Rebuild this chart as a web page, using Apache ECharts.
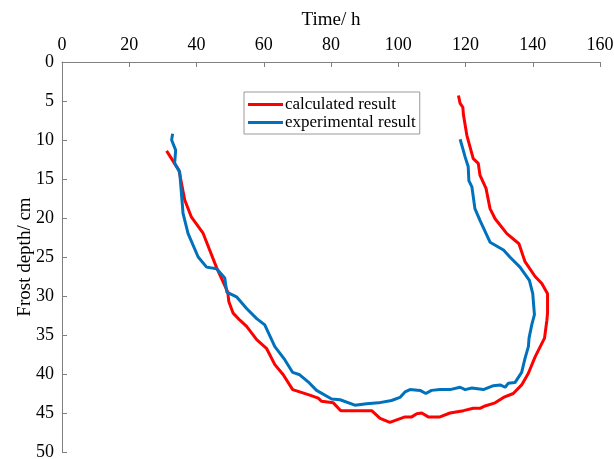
<!DOCTYPE html>
<html>
<head>
<meta charset="utf-8">
<script src="https://cdn.jsdelivr.net/npm/echarts@6/dist/echarts.min.js"></script>
<style>
  html, body { margin: 0; padding: 0; background: #fff; }
  #chart { width: 614px; height: 459px; }
</style>
</head>
<body>
<div id="chart"></div>
<script>
// time (h), frost depth (cm)
var calcTime = [31.1, 34.8, 36.5, 38.5, 41.9, 46.0, 49.3, 49.6, 50.9, 52.9, 54.9, 57.9, 60.8, 63.3, 65.8, 68.6,
  73.7, 76.2, 77.2, 80.7, 82.9, 85.6, 92.1, 94.6, 97.5, 102.0, 104.0, 105.5, 107.0, 108.9, 112.4, 115.4,
  119.4, 122.3, 124.3, 125.8, 128.8, 131.3, 134.2, 136.7, 138.7, 140.7, 143.5, 144.2, 144.4, 144.4,
  142.7, 140.7, 137.7, 135.9, 132.3, 128.8, 127.3, 126.1, 124.3, 123.8, 122.3, 120.4, 119.4, 119.2, 118.4, 117.9];
var calcDepth = [11.4, 13.9, 17.7, 19.9, 21.9, 26.4, 29.5, 30.7, 32.2, 33.1, 33.9, 35.6, 36.7, 38.8, 40.1, 42.0,
  42.7, 43.1, 43.5, 43.7, 44.7, 44.7, 44.7, 45.7, 46.2, 45.5, 45.5, 45.1, 45.0, 45.5, 45.5, 45.0,
  44.7, 44.4, 44.4, 44.1, 43.7, 43.0, 42.5, 41.4, 39.9, 37.8, 35.4, 33.1, 32.2, 29.7,
  28.4, 27.5, 25.6, 23.3, 22.0, 20.1, 18.8, 16.2, 14.5, 13.0, 12.4, 9.4, 6.8, 5.8, 5.3, 4.3];

var expTime = [32.9, 32.6, 33.8, 33.5, 35.0, 36.0, 37.5, 40.5, 43.0, 46.0, 48.4, 49.0, 51.9, 54.9, 57.9, 60.3,
  63.3, 66.3, 68.6, 70.7, 73.2, 75.7, 80.2, 82.7, 87.1, 90.6, 94.1, 98.0, 100.5, 102.0, 103.5, 106.5,
  108.2, 109.9, 112.4, 115.4, 118.4, 119.9, 121.9, 125.3, 128.3, 130.3, 131.8, 132.7, 134.7, 136.7,
  137.7, 138.7, 138.9, 139.7, 140.5, 140.0, 139.0, 136.2, 133.2, 131.3, 127.3, 124.3, 122.8, 121.9,
  121.0, 120.8, 119.9, 119.2, 118.4];
var expDepth = [9.2, 10.0, 11.3, 13.0, 14.1, 19.4, 22.0, 25.0, 26.3, 26.5, 27.7, 29.5, 30.1, 31.6, 32.9, 33.7,
  36.5, 38.2, 39.8, 40.1, 41.0, 42.1, 43.2, 43.3, 44.0, 43.8, 43.7, 43.4, 43.0, 42.3, 42.0, 42.1,
  42.5, 42.1, 42.0, 42.0, 41.7, 42.0, 41.8, 42.0, 41.5, 41.4, 41.7, 41.2, 41.1, 39.8,
  38.0, 36.5, 35.4, 33.7, 32.4, 29.7, 28.0, 26.3, 25.0, 24.1, 23.1, 20.3, 18.8, 16.0,
  15.2, 13.4, 12.2, 11.1, 9.9];

var seriesNames = ['calculated result', 'experimental result'];

function pairs(xs, ys) {
  return xs.map(function (x, i) { return [x, ys[i]]; });
}

var axisColor = '#808080';
var font = 'Liberation Serif';

var option = {
  animation: false,
  backgroundColor: '#fff',
  grid: { left: 62, right: 14, top: 62, bottom: 7, outerBoundsMode: 'none' },
  legend: {
    data: seriesNames,
    orient: 'vertical',
    left: 244,
    top: 92,
    padding: [4, 4, 3, 4],
    itemGap: 1,
    itemWidth: 35,
    itemHeight: 3,
    icon: 'rect',
    borderColor: '#999',
    borderWidth: 1,
    textStyle: { fontFamily: font, fontSize: 17, color: '#000', padding: [0, 0, 0, -3] }
  },
  xAxis: {
    type: 'value',
    position: 'top',
    min: 0, max: 160, interval: 20,
    name: 'Time/ h',
    nameLocation: 'middle',
    nameGap: 32,
    nameTextStyle: { fontFamily: font, fontSize: 19, color: '#000' },
    axisLine: { show: true, lineStyle: { color: axisColor } },
    axisTick: { inside: true, length: 5, lineStyle: { color: axisColor } },
    axisLabel: { fontFamily: font, fontSize: 18, color: '#000', margin: 8 },
    splitLine: { show: false }
  },
  yAxis: {
    type: 'value',
    inverse: true,
    min: 0, max: 50, interval: 5,
    name: 'Frost depth/ cm',
    nameLocation: 'middle',
    nameGap: 27,
    nameMoveOverlap: false,
    nameTextStyle: { fontFamily: font, fontSize: 19, color: '#000' },
    axisLine: { show: true, lineStyle: { color: axisColor } },
    axisTick: { inside: true, length: 5, lineStyle: { color: axisColor } },
    axisLabel: { fontFamily: font, fontSize: 18, color: '#000', margin: 8 },
    splitLine: { show: false }
  },
  series: [
    {
      name: seriesNames[0],
      type: 'line',
      data: pairs(calcTime, calcDepth),
      symbol: 'none',
      color: '#ff0000',
      lineStyle: { width: 3, color: '#ff0000' }
    },
    {
      name: seriesNames[1],
      type: 'line',
      data: pairs(expTime, expDepth),
      symbol: 'none',
      color: '#0072bd',
      lineStyle: { width: 3, color: '#0072bd' }
    }
  ]
};

var myChart = echarts.init(document.getElementById('chart'));
myChart.setOption(option);
</script>
</body>
</html>
